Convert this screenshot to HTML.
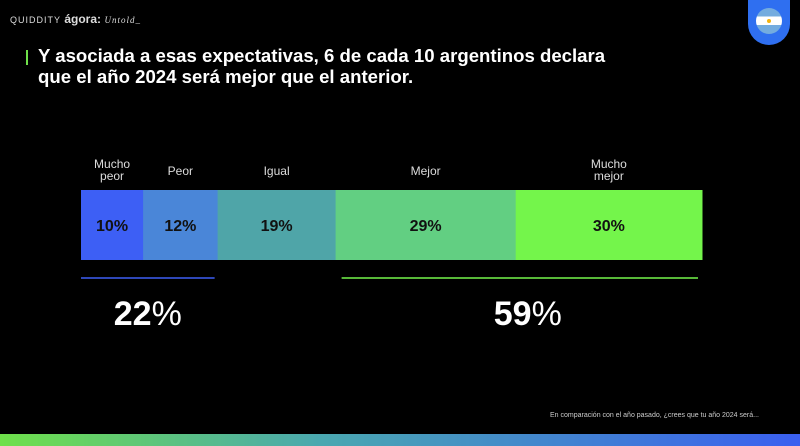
<!DOCTYPE html>
<html><head><meta charset="utf-8"><style>
body{margin:0;background:#000;width:800px;height:446px;overflow:hidden;position:relative;font-family:"Liberation Sans",sans-serif;color:#fff}
.abs{position:absolute}
</style></head><body>
<div class="abs" style="left:10px;top:12px;font-size:9px;letter-spacing:1px;color:#ddd">QUIDDITY <b style="font-size:12px;letter-spacing:0">ágora:</b> <i style="font-family:'Liberation Serif',serif">Untold_</i></div>
<div class="abs" style="left:748px;top:-10px;width:42px;height:55px;background:#2f6ff0;border-radius:0 0 21px 21px">
 <div style="position:absolute;left:8px;top:18px;width:26px;height:26px;border-radius:50%;background:linear-gradient(#74acdf 33%,#fff 33%,#fff 66%,#74acdf 66%)"></div>
 <div style="position:absolute;left:19px;top:29px;width:4px;height:4px;border-radius:50%;background:#f6b40e"></div>
</div>
<div class="abs" style="left:26px;top:50px;width:2px;height:15px;background:#6fe04a"></div>
<div class="abs" style="left:38px;top:45px;font-size:18.6px;font-weight:bold;line-height:21px">Y asociada a esas expectativas, 6 de cada 10 argentinos declara<br>que el año 2024 será mejor que el anterior.</div>
<svg class="abs" style="left:0;top:0" width="800" height="446"></svg>
<div class="abs" style="left:550px;top:412px;font-size:7px;color:#ccc">En comparación con el año pasado, ¿crees que tu año 2024 será...</div>
<div class="abs" style="left:0;top:434px;width:800px;height:12px;background:linear-gradient(90deg,#6fe04a,#4aa8b0 40%,#3a5ff0)"></div>
<script>
const categories=["Mucho\npeor","Peor","Igual","Mejor","Mucho\nmejor"];
const values=[10,12,19,29,30];
const colors=["#3d5ff5","#4a86d8","#4fa5a8","#62cf82","#74f54b"];
const negTotal=22, posTotal=59;
const svg=document.querySelector('svg');
const NS='http://www.w3.org/2000/svg';
const x0=81,x1=702,y=190,h=70;
const sum=values.reduce((a,b)=>a+b,0);
const sx=v=>v/sum*(x1-x0);
let cx=x0;const starts=[];
values.forEach((v,i)=>{
 const w=sx(v);starts.push(cx);
 const r=document.createElementNS(NS,'rect');
 r.setAttribute('x',cx);r.setAttribute('y',y);r.setAttribute('width',w+0.5);r.setAttribute('height',h);r.setAttribute('fill',colors[i]);
 
 
 svg.appendChild(r);
 const t=document.createElementNS(NS,'text');
 t.setAttribute('x',cx+w/2);t.setAttribute('y',y+h/2+6);t.setAttribute('text-anchor','middle');
 t.setAttribute('font-size','16');t.setAttribute('font-weight','bold');t.setAttribute('fill','#111');
 t.textContent=v+'%';
 
 
 svg.appendChild(t);
 const lines=categories[i].split('\n');
 lines.forEach((ln,j)=>{
  const l=document.createElementNS(NS,'text');
  l.setAttribute('x',cx+w/2);l.setAttribute('y',(lines.length>1?168:175)+j*12);l.setAttribute('text-anchor','middle');
  l.setAttribute('font-size','12');l.setAttribute('fill','#ddd');l.textContent=ln;
  
  
  svg.appendChild(l);
 });
 cx+=w;
});
function group(xa,xb,col,val,name,dx){
 const l=document.createElementNS(NS,'line');
 l.setAttribute('x1',xa);l.setAttribute('x2',xb);l.setAttribute('y1',278);l.setAttribute('y2',278);l.setAttribute('stroke',col);l.setAttribute('stroke-width','1.5');
 
 
 svg.appendChild(l);
 const t=document.createElementNS(NS,'text');
 t.setAttribute('x',(xa+xb)/2+dx);t.setAttribute('y',325);t.setAttribute('text-anchor','middle');t.setAttribute('font-size','34');t.setAttribute('fill','#fff');
 t.innerHTML='<tspan font-weight="bold">'+val+'</tspan>%';
 
 
 svg.appendChild(t);
}
group(x0,starts[2]-3,'#3d5ff5',negTotal,'negative',0);
group(starts[3]+6,698,'#74f54b',posTotal,'positive',8);
</script>
</body></html>
